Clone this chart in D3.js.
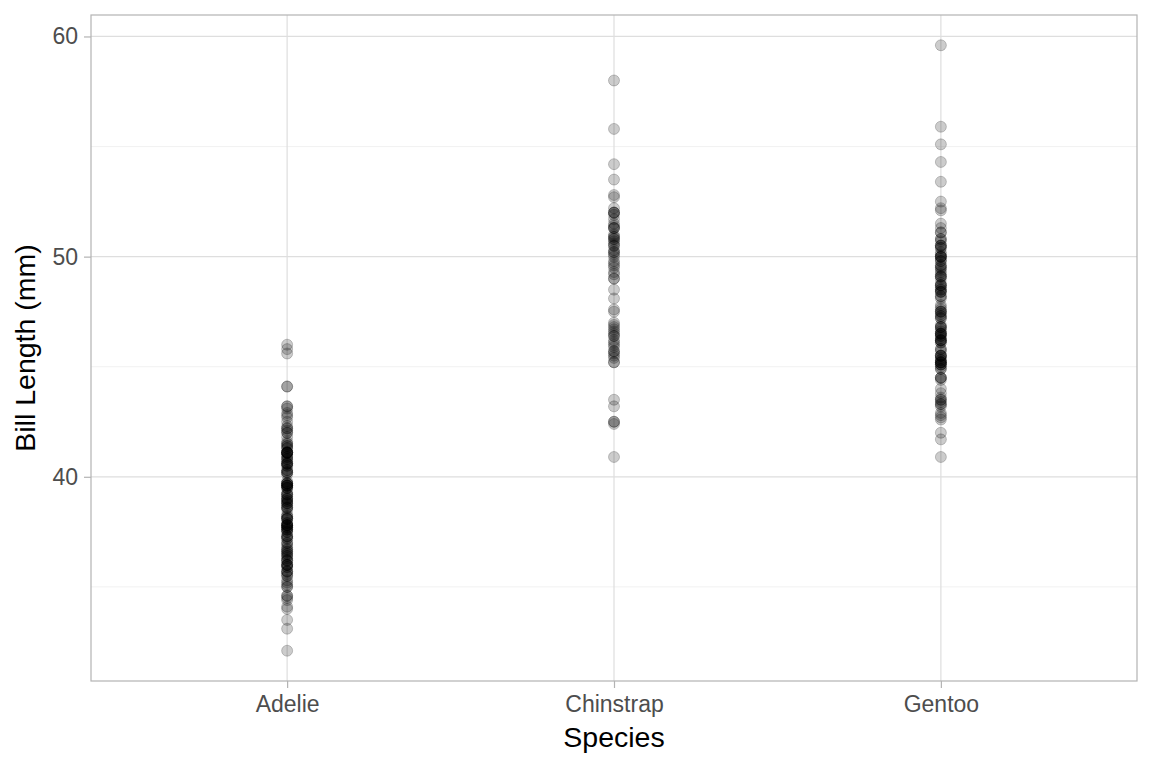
<!DOCTYPE html>
<html>
<head>
<meta charset="utf-8">
<script src="https://cdn.jsdelivr.net/npm/d3@7"></script>
<style>
  body { margin: 0; background: #fff; }
  svg { display: block; font-family: "Liberation Sans", Arial, sans-serif; }
</style>
</head>
<body>
<div id="chart"></div>
<script>
// Palmer penguins, bill length (mm) by species
var species = ["Adelie", "Chinstrap", "Gentoo"];

var adelie = [39.1, 39.5, 40.3, 36.7, 39.3, 38.9, 39.2, 34.1, 42.0, 37.8, 37.8, 41.1, 38.6, 34.6, 36.6, 38.7, 42.5, 34.4, 46.0, 37.8,
  37.7, 35.9, 38.2, 38.8, 35.3, 40.6, 40.5, 37.9, 40.5, 39.5, 37.2, 39.5, 40.9, 36.4, 39.2, 38.8, 42.2, 37.6, 39.8, 36.5,
  40.8, 36.0, 44.1, 37.0, 39.6, 41.1, 37.5, 36.0, 42.3, 39.6, 40.1, 35.0, 42.0, 34.5, 41.4, 39.0, 40.6, 36.5, 37.6, 35.7,
  41.3, 37.6, 41.1, 36.4, 41.6, 35.5, 41.1, 35.9, 41.8, 33.5, 39.7, 39.6, 45.8, 35.5, 42.8, 40.9, 37.2, 36.2, 42.1, 34.6,
  42.9, 36.7, 35.1, 37.3, 41.3, 36.3, 36.9, 38.3, 38.9, 35.7, 41.1, 34.0, 39.6, 36.2, 40.8, 38.1, 40.3, 33.1, 43.2, 35.0,
  41.0, 37.7, 37.8, 37.9, 39.7, 38.6, 38.2, 38.1, 43.2, 38.1, 45.6, 39.7, 42.2, 39.6, 42.7, 38.6, 37.3, 35.7, 41.1, 36.2,
  37.7, 40.2, 41.4, 35.2, 40.6, 38.8, 41.5, 39.0, 44.1, 38.5, 43.1, 36.8, 37.5, 38.1, 41.1, 35.6, 40.2, 37.0, 39.7, 40.2,
  40.6, 32.1, 40.7, 37.3, 39.0, 39.2, 36.6, 36.0, 37.8, 36.0, 41.5];

var chinstrap = [46.5, 50.0, 51.3, 45.4, 52.7, 45.2, 46.1, 51.3, 46.0, 51.3, 46.6, 51.7, 47.0, 52.0, 45.9, 50.5, 50.3, 58.0,
  46.4, 49.2, 42.4, 48.5, 43.2, 50.6, 46.7, 52.0, 50.5, 49.5, 46.4, 52.8, 40.9, 54.2, 42.5, 51.0, 49.7, 47.5, 47.6, 52.0,
  46.9, 53.5, 49.0, 46.2, 50.9, 45.5, 50.9, 50.8, 50.1, 49.0, 51.5, 49.8, 48.1, 51.4, 45.7, 50.7, 42.5, 52.2, 45.2, 49.3,
  50.2, 45.6, 51.9, 46.8, 45.7, 55.8, 43.5, 49.6, 50.8, 50.2];

var gentoo = [46.1, 50.0, 48.7, 50.0, 47.6, 46.5, 45.4, 46.7, 43.3, 46.8, 40.9, 49.0, 45.5, 48.4, 45.8, 49.3, 42.0, 49.2,
  46.2, 48.7, 50.2, 45.1, 46.5, 46.3, 42.9, 46.1, 44.5, 47.8, 48.2, 50.0, 47.3, 42.8, 45.1, 59.6, 49.1, 48.4, 42.6, 44.4,
  44.0, 48.7, 42.7, 49.6, 45.3, 49.6, 50.5, 43.6, 45.5, 50.5, 44.9, 45.2, 46.6, 48.5, 45.1, 50.1, 46.5, 45.0, 43.8, 45.5,
  43.2, 50.4, 45.3, 46.2, 45.7, 54.3, 45.8, 49.8, 46.2, 49.5, 43.5, 50.7, 47.7, 46.4, 48.2, 46.5, 46.4, 48.6, 47.5, 51.1,
  45.2, 45.2, 49.1, 52.5, 47.4, 50.0, 44.9, 50.8, 43.4, 51.3, 47.5, 52.1, 47.5, 52.2, 45.5, 49.5, 44.5, 50.8, 49.4, 46.9,
  48.4, 51.1, 48.5, 55.9, 47.2, 49.1, 47.3, 46.8, 41.7, 53.4, 43.3, 48.1, 50.5, 49.8, 43.5, 51.5, 46.2, 55.1, 44.5, 48.8,
  47.2, 46.8, 50.4, 45.2, 49.9];

var yTicks = [40, 50, 60];
var yMinorTicks = [35, 45, 55];

var points = []
  .concat(adelie.map(function (v) { return { species: "Adelie", value: v }; }))
  .concat(chinstrap.map(function (v) { return { species: "Chinstrap", value: v }; }))
  .concat(gentoo.map(function (v) { return { species: "Gentoo", value: v }; }));

var width = 1152, height = 768;
var margin = { top: 15, right: 15, bottom: 87, left: 91 };
var innerW = width - margin.left - margin.right;
var innerH = height - margin.top - margin.bottom;

var svg = d3.select("#chart").append("svg")
  .attr("width", width).attr("height", height);

var g = svg.append("g")
  .attr("transform", "translate(" + margin.left + "," + margin.top + ")");

// ggplot-style expansion
var yExt = d3.extent(points, function (d) { return d.value; });
var pad = (yExt[1] - yExt[0]) * 0.05;
var y = d3.scaleLinear()
  .domain([yExt[0] - pad, yExt[1] + pad])
  .range([innerH, 0]);

var x = d3.scalePoint()
  .domain(species)
  .range([0, innerW])
  .padding(0.6);

// minor grid
g.selectAll(".minor")
  .data(yMinorTicks).join("line")
    .attr("x1", 0).attr("x2", innerW)
    .attr("y1", function (d) { return y(d); }).attr("y2", function (d) { return y(d); })
    .attr("stroke", "#ebebeb").attr("stroke-width", 0.7);

// major grid
g.selectAll(".major-y")
  .data(yTicks).join("line")
    .attr("x1", 0).attr("x2", innerW)
    .attr("y1", function (d) { return y(d); }).attr("y2", function (d) { return y(d); })
    .attr("stroke", "#dedede").attr("stroke-width", 1.2);

g.selectAll(".major-x")
  .data(species).join("line")
    .attr("x1", function (d) { return x(d); }).attr("x2", function (d) { return x(d); })
    .attr("y1", 0).attr("y2", innerH)
    .attr("stroke", "#dedede").attr("stroke-width", 1.2);

// points
g.selectAll(".pt")
  .data(points).join("circle")
    .attr("cx", function (d) { return x(d.species); })
    .attr("cy", function (d) { return y(d.value); })
    .attr("r", 5.5)
    .attr("fill", "#000").attr("fill-opacity", 0.2)
    .attr("stroke", "#000").attr("stroke-opacity", 0.2).attr("stroke-width", 1);

// panel border
g.append("rect")
  .attr("x", 0).attr("y", 0).attr("width", innerW).attr("height", innerH)
  .attr("fill", "none").attr("stroke", "#b3b3b3").attr("stroke-width", 1.2);

// axes
var yAxis = g.append("g")
  .call(d3.axisLeft(y).tickValues(yTicks).tickSize(7).tickPadding(6));
yAxis.select(".domain").remove();
yAxis.selectAll(".tick line").attr("stroke", "#b3b3b3").attr("stroke-width", 1.2);
yAxis.selectAll(".tick text").attr("font-size", 23).attr("fill", "#4d4d4d")
  .attr("font-family", "'Liberation Sans', Arial, sans-serif");

var xAxis = g.append("g")
  .attr("transform", "translate(0," + innerH + ")")
  .call(d3.axisBottom(x).tickSize(7).tickPadding(8));
xAxis.select(".domain").remove();
xAxis.selectAll(".tick line").attr("stroke", "#b3b3b3").attr("stroke-width", 1.2);
xAxis.selectAll(".tick text").attr("font-size", 23).attr("fill", "#4d4d4d")
  .attr("font-family", "'Liberation Sans', Arial, sans-serif");

// titles
svg.append("text")
  .attr("x", margin.left + innerW / 2).attr("y", 747)
  .attr("text-anchor", "middle").attr("font-size", 28.5).attr("fill", "#000")
  .text("Species");

svg.append("text")
  .attr("transform", "translate(35," + (margin.top + innerH / 2) + ") rotate(-90)")
  .attr("text-anchor", "middle").attr("font-size", 28.5).attr("fill", "#000")
  .text("Bill Length (mm)");
</script>
</body>
</html>
